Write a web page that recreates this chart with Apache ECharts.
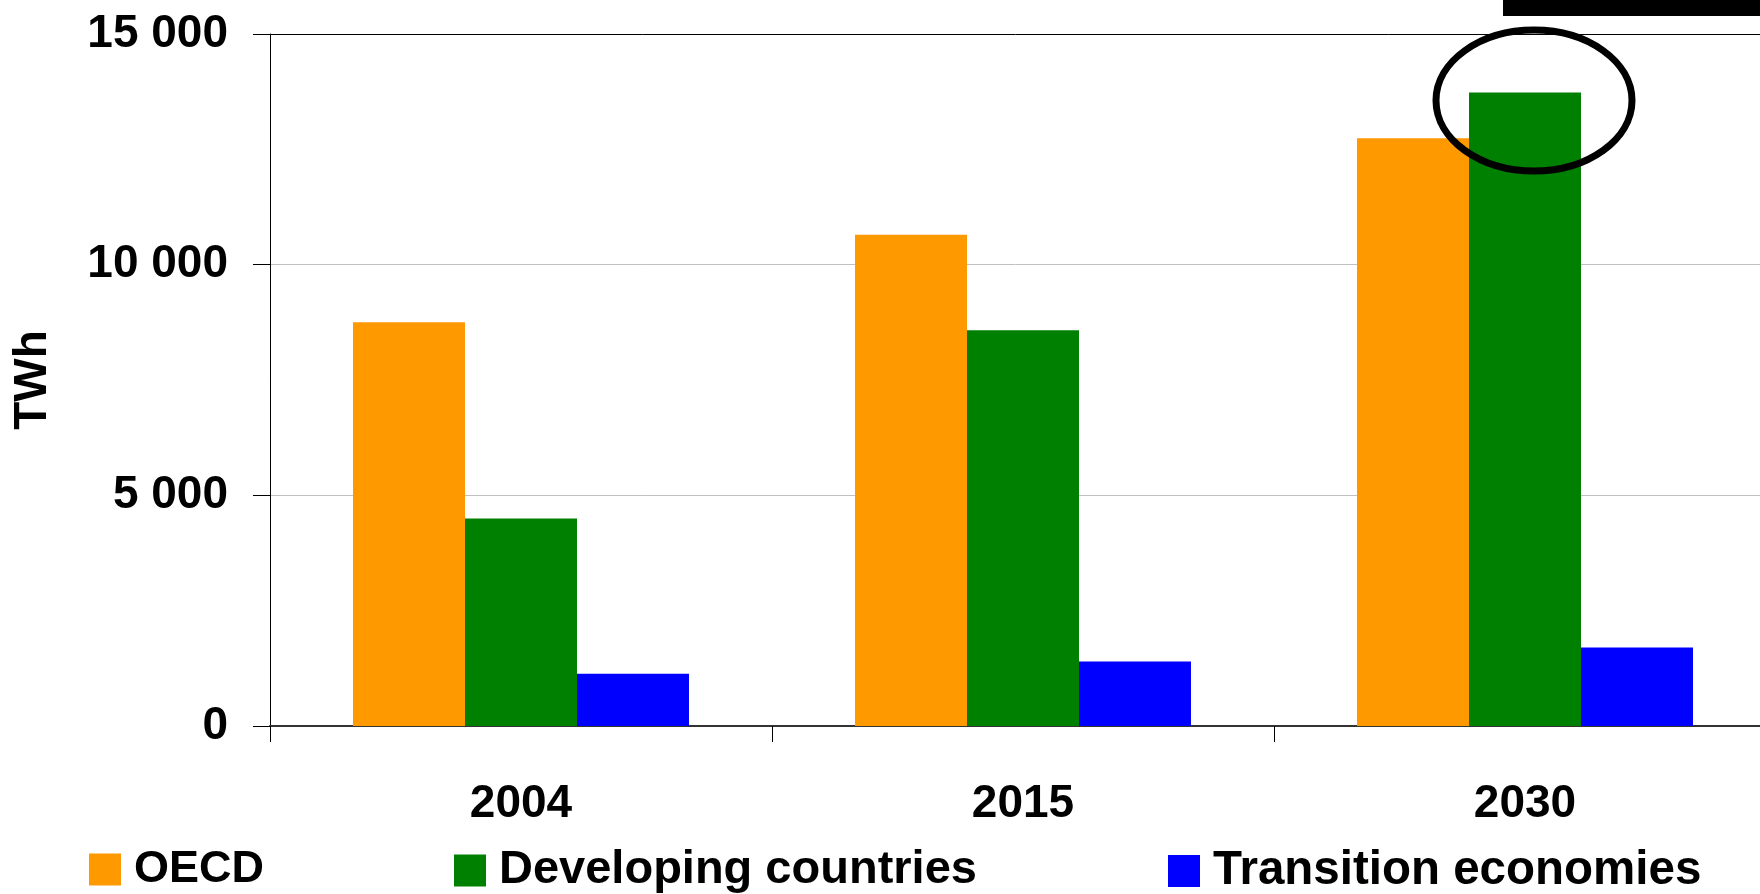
<!DOCTYPE html>
<html>
<head>
<meta charset="utf-8">
<title>Electricity generation by region, TWh</title>
<script src="https://cdn.jsdelivr.net/npm/echarts@6/dist/echarts.min.js"></script>
<style>
  html, body { margin: 0; padding: 0; background: #fff; overflow: hidden; }
  #chart { width: 1760px; height: 894px; }
</style>
</head>
<body>
<div id="chart"></div>
<script>
// Years on the category axis
const years = ['2004', '2015', '2030'];

// Electricity generation per region group (TWh)
const oecd = [8750, 10650, 12740];
const developing = [4500, 8580, 13730];
const transition = [1130, 1400, 1700];

// Series names as shown in the legend
const seriesNames = ['OECD', 'Developing countries', 'Transition economies'];

// Value axis ticks
const yTicks = [0, 5000, 10000, 15000];

// Year and value that the highlight ring surrounds
const highlightYear = '2030';
const highlightValue = developing[2];

const FONT = '"Liberation Sans", Arial, sans-serif';
const colors = ['#FF9900', '#008000', '#0000FF'];

// Thousands separated by a space: 15000 -> "15 000"
function spaced(v) {
  return String(v).replace(/\B(?=(\d{3})+(?!\d))/g, ' ');
}

const chart = echarts.init(document.getElementById('chart'), null, { renderer: 'canvas' });

function legendAt(left, name, size) {
  return {
    data: [name],
    left: left,
    top: 847,
    orient: 'horizontal',
    padding: 0,
    itemWidth: 32,
    itemHeight: 32,
    icon: 'rect',
    selectedMode: false,
    textStyle: {
      fontFamily: FONT,
      fontWeight: 'bold',
      fontSize: size,
      color: '#000',
      padding: [0, 0, 0, 8]
    }
  };
}

const option = {
  animation: false,
  backgroundColor: '#fff',
  color: colors,
  // the plot runs past the right edge of the canvas
  grid: {
    left: 270,
    top: 34,
    width: 1506,
    height: 692,
    outerBoundsMode: 'none',
    containLabel: false
  },
  legend: [
    legendAt(89, seriesNames[0], 45),
    legendAt(454, seriesNames[1], 47),
    legendAt(1168, seriesNames[2], 47.5)
  ],
  xAxis: {
    type: 'category',
    data: years,
    boundaryGap: true,
    axisLine: { show: true, lineStyle: { color: '#333', width: 2 } },
    axisTick: { show: true, alignWithLabel: false, length: 16, lineStyle: { color: '#000', width: 1 } },
    axisLabel: {
      margin: 55,
      fontFamily: FONT,
      fontWeight: 'bold',
      fontSize: 46,
      color: '#000'
    },
    splitLine: { show: false }
  },
  yAxis: {
    type: 'value',
    min: yTicks[0],
    max: yTicks[yTicks.length - 1],
    interval: yTicks[1] - yTicks[0],
    name: 'TWh',
    nameLocation: 'middle',
    nameRotate: 90,
    nameGap: 214,
    nameTextStyle: {
      fontFamily: FONT,
      fontWeight: 'bold',
      fontSize: 46,
      color: '#000'
    },
    axisLine: { show: true, lineStyle: { color: '#000', width: 1 } },
    axisTick: { show: true, length: 17, lineStyle: { color: '#000', width: 1 } },
    axisLabel: {
      margin: 42,
      fontFamily: FONT,
      fontWeight: 'bold',
      fontSize: 46,
      color: '#000',
      formatter: spaced
    },
    splitLine: {
      show: true,
      lineStyle: { color: ['#c0c0c0', '#c0c0c0', '#c0c0c0', '#000'], width: 1 }
    }
  },
  series: [
    { name: seriesNames[0], type: 'bar', data: oecd, barWidth: 112, barGap: '0%' },
    { name: seriesNames[1], type: 'bar', data: developing, barWidth: 112, barGap: '0%' },
    { name: seriesNames[2], type: 'bar', data: transition, barWidth: 112, barGap: '0%' }
  ]
};

chart.setOption(option);

// Ring around the tallest 2030 bar, placed from the axes' own scales
const centre = chart.convertToPixel({ xAxisIndex: 0, yAxisIndex: 0 }, [highlightYear, highlightValue]);
chart.setOption({
  graphic: [
    {
      type: 'ellipse',
      z: 100,
      shape: { cx: centre[0] + 9, cy: centre[1] + 8, rx: 98, ry: 70.5 },
      style: { fill: 'none', stroke: '#000', lineWidth: 7 }
    },
    {
      type: 'rect',
      z: 100,
      shape: { x: 1503, y: 0, width: 257, height: 16 },
      style: { fill: '#000' }
    }
  ]
});
</script>
</body>
</html>
